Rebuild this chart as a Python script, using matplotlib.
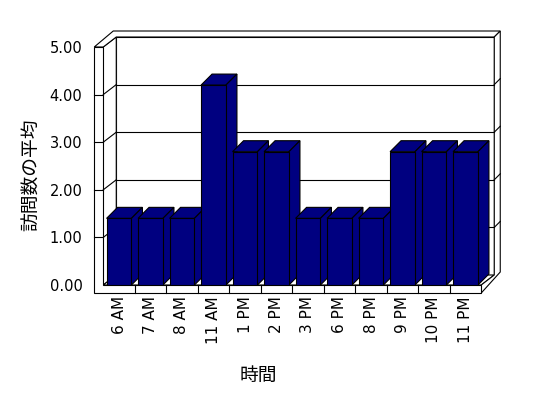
import numpy as np
import matplotlib
matplotlib.use('Agg')
import matplotlib.pyplot as plt
from matplotlib.patches import Polygon
from matplotlib.lines import Line2D
from matplotlib.transforms import IdentityTransform

plt.rcParams['font.family'] = ['DejaVu Sans', 'Noto Sans CJK JP']

hours = ['6 AM', '7 AM', '8 AM', '11 AM', '1 PM', '2 PM', '3 PM',
         '6 PM', '8 PM', '9 PM', '10 PM', '11 PM']
avg_visits = [1.4, 1.4, 1.4, 4.2, 2.8, 2.8, 1.4, 1.4, 1.4, 2.8, 2.8, 2.8]
y_ticks = [0, 1, 2, 3, 4, 5]
y_labels = ['0.00', '1.00', '2.00', '3.00', '4.00', '5.00']
x_title = '時間'
y_title = '訪問数の平均'

W, H = 548, 398
navy = '#000080'

fig = plt.figure(figsize=(W / 100, H / 100), dpi=100)
ax = fig.add_axes([103.25 / W, 113 / H, 378 / W, 238 / H])
ax.set_xlim(-0.5, len(hours) - 0.5)
ax.set_ylim(y_ticks[0], y_ticks[-1])
for s in ax.spines.values():
    s.set_visible(False)
ax.patch.set_visible(False)

ident = IdentityTransform()

# pixel offsets for the fake 3D look
wall = 9          # left wall thickness
floor = 8         # floor thickness
back = (13, 10)   # depth of the plot box
rim = 6           # back wall thickness
bar_d = (11, 11)  # depth of the bars


def pt(x, y, dx=0, dy=0):
    X, Y = ax.transData.transform((x, y))
    return (X + dx, Y + dy)


def face(pts, fc='white', z=1):
    ax.add_patch(Polygon(pts, closed=True, fc=fc, ec='black', lw=0.8,
                         transform=ident, clip_on=False, zorder=z))


def seg(p, q, z=2):
    ax.add_line(Line2D([p[0], q[0]], [p[1], q[1]], color='black', lw=0.8,
                       transform=ident, clip_on=False, zorder=z))


xl, xr = ax.get_xlim()
ytop = y_ticks[-1]

A = pt(xl, ytop, -wall, 0)
B = pt(xl, ytop)
C = pt(xl, ytop, *back)
D = pt(xr, ytop, *back)
E = pt(xr, ytop, back[0] + rim, back[1] + rim)
F = pt(xl, ytop, -wall + 19, 16)
G = pt(xr, 0, back[0] + rim, 13)
Hh = pt(xr, 0, 0, -floor)
I = pt(xr, 0)
J = pt(xr, 0, *back)
K = pt(xl, 0, *back)
L = pt(xl, 0)

face([K, J, D, C])                        # back wall
face([B, C, K, L])                        # left wall inner face
face([L, I, J, K])                        # floor top
face([A, B, C, D, E, F])                  # top rims
face([D, E, G, Hh, I, J])                 # right side
face([A, B, L, I, Hh, pt(xl, 0, -wall, -floor)])  # front L

for v in y_ticks[1:-1]:
    seg(pt(xl, v, -wall, 0), pt(xl, v))
    seg(pt(xl, v), pt(xl, v, *back))
    seg(pt(xl, v, *back), pt(xr, v, *back))
    seg(pt(xr, v, *back), pt(xr, v, back[0] + rim, back[1] + rim))

x = np.arange(len(hours))
for b in x[:-1] + 0.5:
    seg(pt(b, 0), pt(b, 0, 0, -floor))

bw = 0.79
bars = ax.bar(x, avg_visits, width=bw, color=navy, edgecolor='black', lw=0.8)
for i, (rect, v) in enumerate(zip(bars, avg_visits)):
    rect.set_zorder(10 + 2 * i + 1)
    x0, x1 = i - bw / 2, i + bw / 2
    face([pt(x0, v), pt(x1, v), pt(x1, v, *bar_d), pt(x0, v, *bar_d)], navy, 10 + 2 * i)
    face([pt(x1, 0), pt(x1, v), pt(x1, v, *bar_d), pt(x1, 0, *bar_d)], navy, 10 + 2 * i)

ax.set_xticks(x, hours, rotation=90)
ax.set_yticks(y_ticks, y_labels)
ax.tick_params(axis='x', length=0, pad=8, labelsize=11)
ax.tick_params(axis='y', length=0, pad=15, labelsize=10.5)

fig.text(258 / W, 1 - 375 / H, x_title, ha='center', va='center', fontsize=13.5)
fig.text(32 / W, 1 - 175 / H, y_title, rotation=90, ha='center', va='center', fontsize=13.5)

fig.savefig('out.png', dpi=100)
